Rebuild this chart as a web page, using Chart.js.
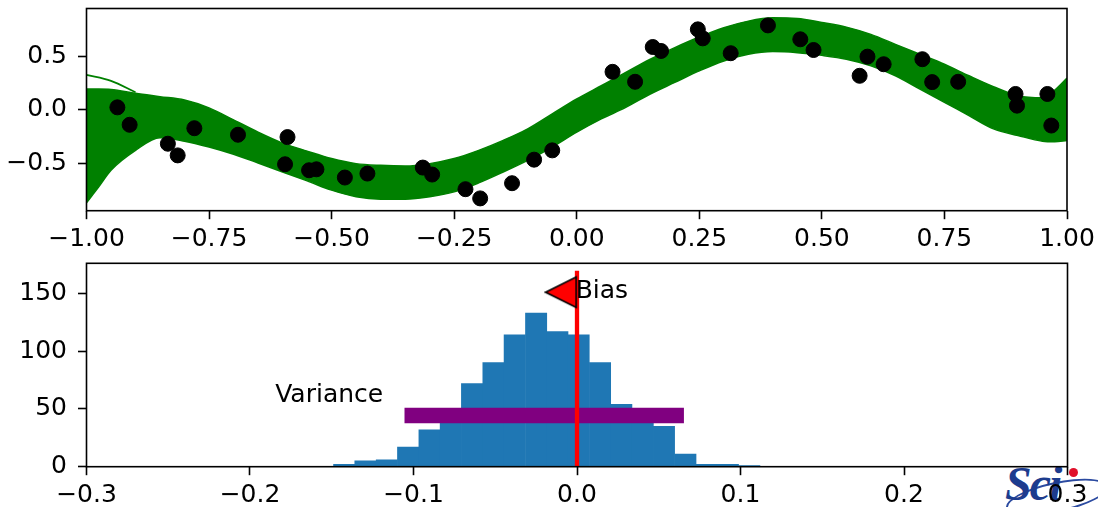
<!DOCTYPE html>
<html>
<head>
<meta charset="utf-8">
<script src="https://cdn.jsdelivr.net/npm/chart.js@4.4.1/dist/chart.umd.min.js"></script>
<style>
  html, body { margin: 0; padding: 0; background: #fff; }
  body { width: 1098px; height: 507px; position: relative; overflow: hidden; }
  canvas { position: absolute; left: 0; }
  #fitChart { top: 0; }
  #histChart { top: 250px; }
  .logo { position: absolute; left: 1003px; top: 456px; width: 100px; height: 60px; }
  .logo .ring { position: absolute; left: 2px; top: 26px; width: 100px; height: 26px; border: 2px solid #2b4aa0; border-radius: 50%; transform: rotate(-12deg); }
  .logo .mark { position: absolute; left: 2px; top: 0; font: italic bold 48px 'Liberation Serif', serif; color: #1d3c8e; letter-spacing: -2px; }
  .logo .dot { position: absolute; left: 66px; top: 12px; width: 9px; height: 9px; border-radius: 50%; background: #e0102a; }
</style>
</head>
<body>
<div class="logo"><span class="ring"></span><span class="mark">Sci</span><span class="dot"></span></div>
<canvas id="fitChart" width="1098" height="250"></canvas>
<canvas id="histChart" width="1098" height="257"></canvas>
<script>
Chart.defaults.font.family = "'DejaVu Sans', sans-serif";
Chart.defaults.font.size = 25;
Chart.defaults.color = '#000';
Chart.defaults.animation = false;

// noisy samples
const sampleX = [-0.937, -0.912, -0.834, -0.814, -0.780, -0.691, -0.590, -0.595, -0.546, -0.531,
                 -0.473, -0.427, -0.314, -0.295, -0.227, -0.197, -0.132, -0.087, -0.050, 0.073,
                 0.119, 0.155, 0.172, 0.247, 0.257, 0.314, 0.390, 0.456, 0.483, 0.577,
                 0.593, 0.626, 0.705, 0.725, 0.778, 0.895, 0.898, 0.960, 0.968];
const sampleY = [0.024, -0.139, -0.316, -0.425, -0.171, -0.232, -0.254, -0.508, -0.564, -0.555,
                 -0.632, -0.595, -0.539, -0.604, -0.741, -0.827, -0.685, -0.465, -0.378, 0.356,
                 0.263, 0.588, 0.551, 0.753, 0.669, 0.530, 0.790, 0.660, 0.560, 0.319,
                 0.498, 0.427, 0.474, 0.260, 0.263, 0.149, 0.040, 0.149, -0.146];

// envelope of all the fitted curves
const bandX = [-1, -0.975, -0.95, -0.9, -0.85, -0.8, -0.75, -0.7, -0.65, -0.6, -0.55,
               -0.5, -0.45, -0.4, -0.35, -0.3, -0.25, -0.2, -0.15, -0.1, -0.05, 0,
               0.05, 0.1, 0.15, 0.2, 0.25, 0.3, 0.35, 0.4, 0.45, 0.5, 0.55, 0.6, 0.65,
               0.7, 0.75, 0.8, 0.85, 0.9, 0.95, 0.975, 1];
const bandUpper = [0.195, 0.195, 0.192, 0.155, 0.124, 0.093, 0.019, -0.093, -0.208, -0.31, -0.385,
                   -0.455, -0.502, -0.518, -0.524, -0.502, -0.455, -0.378, -0.285, -0.177, -0.037, 0.102,
                   0.226, 0.35, 0.474, 0.582, 0.681, 0.768, 0.83, 0.861, 0.855, 0.818, 0.774, 0.706, 0.613,
                   0.52, 0.427, 0.319, 0.217, 0.133, 0.114, 0.186, 0.297];
const bandLower = [-0.868, -0.719, -0.564, -0.378, -0.26, -0.292, -0.347, -0.415, -0.496, -0.58, -0.663,
                   -0.75, -0.812, -0.834, -0.834, -0.812, -0.766, -0.682, -0.58, -0.471, -0.347, -0.208,
                   -0.084, 0.024, 0.149, 0.257, 0.365, 0.458, 0.52, 0.545, 0.535, 0.51, 0.474, 0.412, 0.319,
                   0.195, 0.071, -0.053, -0.177, -0.239, -0.292, -0.297, -0.285];
// one fit that wanders off at the left end
const strayX = [-1, -0.95, -0.9];
const strayY = [0.328, 0.272, 0.165];

const fitXTicks = [-1, -0.75, -0.5, -0.25, 0, 0.25, 0.5, 0.75, 1];
const fitYTicks = [-0.5, 0, 0.5];

// histogram of the prediction error
const binCenters = [-0.1424, -0.1294, -0.1163, -0.1033, -0.0902, -0.0772, -0.0642, -0.0511, -0.0381, -0.0250,
                    -0.0120, 0.0010, 0.0141, 0.0271, 0.0402, 0.0532, 0.0663, 0.0793, 0.0923, 0.1054];
const binCounts = [2, 5, 6, 17, 32, 48, 72, 90, 114, 133, 117, 114, 90, 54, 46, 35, 11, 2, 2, 1];
const histXTicks = [-0.3, -0.2, -0.1, 0, 0.1, 0.2, 0.3];
const histYTicks = [0, 50, 100, 150];

const biasLineX = [0, 0];
const biasLineY = [0, 169.5];
const biasMarkX = [-0.0097];
const biasMarkY = [151];
const varianceX = [-0.1055, 0.0654];
const varianceY = [44.3, 44.3];

const noteText = ['Bias', 'Variance'];
const noteX = [-0.0008, -0.1846];
const noteY = [151.4, 62];

const toPoints = (xs, ys) => xs.map((x, i) => ({ x: x, y: ys[i] }));

function fmt(v, digits) {
    const s = Math.abs(v).toFixed(digits);
    return (v < -1e-9 ? '\u2212' : '') + s;
}

// axes box on all four sides
const frame = {
    id: 'frame',
    afterDatasetsDraw(chart) {
        const { ctx, chartArea: a } = chart;
        ctx.save();
        ctx.strokeStyle = '#000';
        ctx.lineWidth = 1.6;
        ctx.strokeRect(a.left, a.top, a.right - a.left, a.bottom - a.top);
        ctx.restore();
    }
};

// text labels placed in data coordinates
const notes = {
    id: 'notes',
    afterDatasetsDraw(chart) {
        const { ctx, scales } = chart;
        ctx.save();
        ctx.font = "25px 'DejaVu Sans', sans-serif";
        ctx.fillStyle = '#000';
        ctx.textAlign = 'left';
        ctx.textBaseline = 'middle';
        noteText.forEach((t, i) => {
            ctx.fillText(t, scales.x.getPixelForValue(noteX[i]), scales.y.getPixelForValue(noteY[i]));
        });
        ctx.restore();
    }
};

function axis(min, max, tickValues, digits, fixedSize, horizontal) {
    return {
        type: 'linear',
        min: min,
        max: max,
        offset: false,
        afterBuildTicks: s => { s.ticks = tickValues.map(v => ({ value: v })); },
        afterFit: s => {
            if (horizontal) { s.height = fixedSize; s.paddingLeft = 0; s.paddingRight = 0; }
            else { s.width = fixedSize; s.paddingTop = 0; s.paddingBottom = 0; }
        },
        grid: { offset: false, drawOnChartArea: false, tickLength: 8.5, tickWidth: 1.6, tickColor: '#000' },
        border: { display: false },
        ticks: {
            padding: horizontal ? 4.8 : 11,
            maxRotation: 0,
            autoSkip: false,
            callback: v => fmt(v, digits)
        }
    };
}

// left-pointing marker for the bias
function triangleMarker() {
    const c = document.createElement('canvas');
    c.width = 34; c.height = 34;
    const g = c.getContext('2d');
    g.beginPath();
    g.moveTo(1.5, 17);
    g.lineTo(32, 1.8);
    g.lineTo(32, 32.2);
    g.closePath();
    g.fillStyle = '#ff0000';
    g.fill();
    g.lineWidth = 1.6;
    g.strokeStyle = '#000';
    g.lineJoin = 'miter';
    g.stroke();
    return c;
}

const green = '#008000';

new Chart(document.getElementById('fitChart'), {
    type: 'scatter',
    data: {
        datasets: [
            {
                data: toPoints(sampleX, sampleY),
                backgroundColor: '#000',
                borderColor: '#000',
                borderWidth: 1,
                pointRadius: 7.5,
                order: 0
            },
            {
                data: toPoints(bandX, bandUpper),
                showLine: true,
                borderColor: green,
                backgroundColor: green,
                borderWidth: 1.5,
                pointRadius: 0,
                fill: '+1',
                cubicInterpolationMode: 'monotone',
                order: 2
            },
            {
                data: toPoints(bandX, bandLower),
                showLine: true,
                borderColor: green,
                borderWidth: 1.5,
                pointRadius: 0,
                fill: false,
                cubicInterpolationMode: 'monotone',
                order: 3
            },
            {
                data: toPoints(strayX, strayY),
                showLine: true,
                borderColor: green,
                borderWidth: 1.8,
                pointRadius: 0,
                fill: false,
                cubicInterpolationMode: 'monotone',
                order: 1
            }
        ]
    },
    options: {
        responsive: false,
        devicePixelRatio: 1,
        layout: { padding: { top: 7.3, right: 31, bottom: 0, left: 0 } },
        plugins: { legend: { display: false }, tooltip: { enabled: false } },
        scales: {
            x: axis(-1, 1, fitXTicks, 2, 39.3, true),
            y: axis(-0.942, 0.948, fitYTicks, 1, 86.5, false)
        }
    },
    plugins: [frame]
});

new Chart(document.getElementById('histChart'), {
    type: 'bar',
    data: {
        datasets: [
            {
                type: 'scatter',
                data: toPoints(biasMarkX, biasMarkY),
                pointStyle: triangleMarker(),
                order: 0
            },
            {
                type: 'line',
                data: toPoints(biasLineX, biasLineY),
                borderColor: '#ff0000',
                borderWidth: 4.3,
                borderCapStyle: 'butt',
                pointRadius: 0,
                order: 1
            },
            {
                type: 'line',
                data: toPoints(varianceX, varianceY),
                borderColor: '#800080',
                borderWidth: 15.6,
                borderCapStyle: 'butt',
                pointRadius: 0,
                order: 2
            },
            {
                type: 'bar',
                data: toPoints(binCenters, binCounts),
                backgroundColor: '#1f77b4',
                borderWidth: 0,
                barPercentage: 1,
                categoryPercentage: 1,
                order: 3
            }
        ]
    },
    options: {
        responsive: false,
        devicePixelRatio: 1,
        layout: { padding: { top: 13.3, right: 30.5, bottom: 0, left: 0 } },
        plugins: { legend: { display: false }, tooltip: { enabled: false } },
        scales: {
            x: axis(-0.3, 0.3, histXTicks, 1, 40.3, true),
            y: axis(0, 176, histYTicks, 0, 86.5, false)
        }
    },
    plugins: [frame, notes]
});
</script>
</body>
</html>
